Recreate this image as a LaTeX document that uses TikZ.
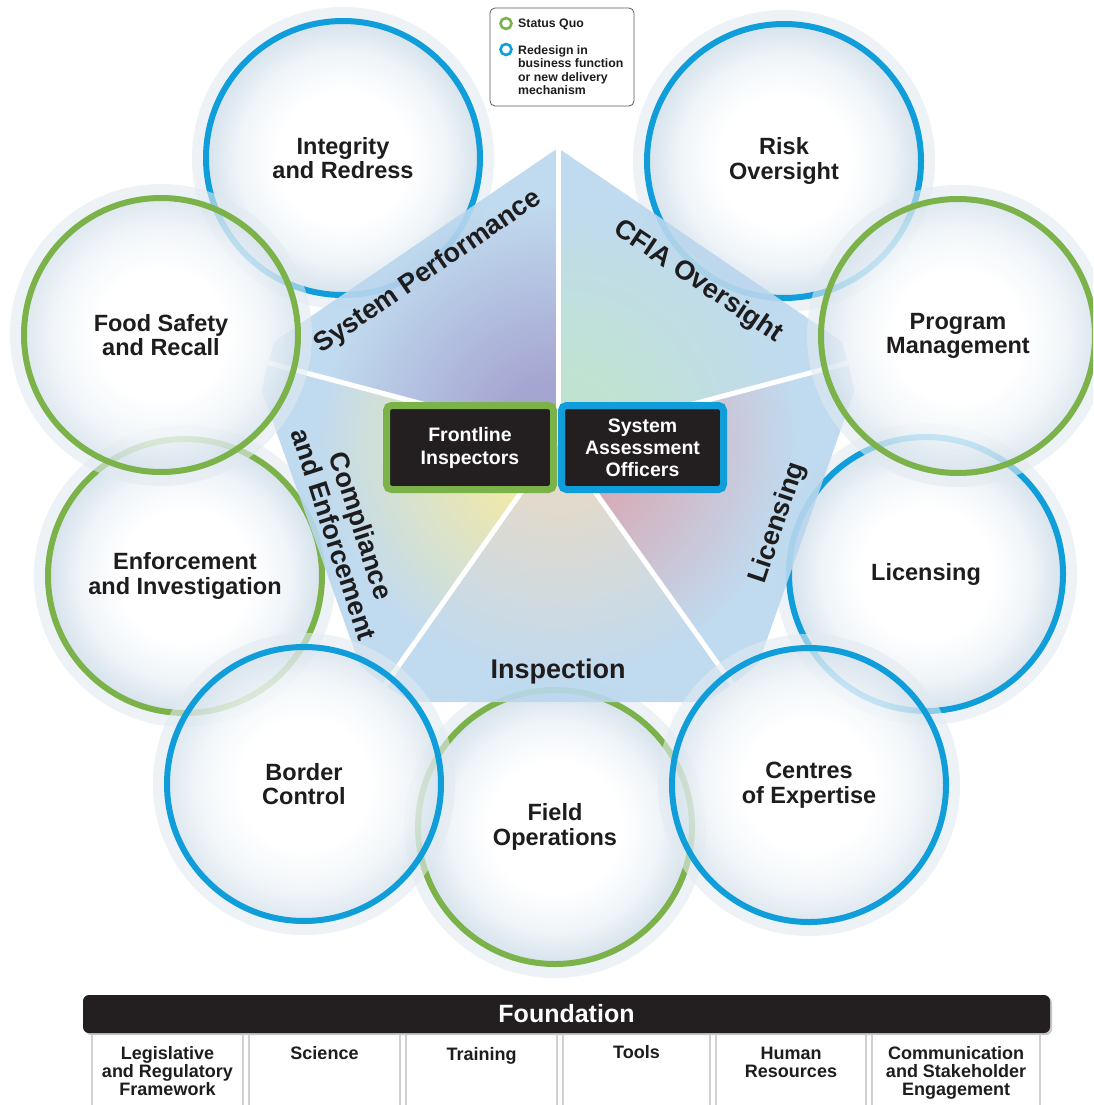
\documentclass[tikz,border=0pt]{standalone}
\usepackage{fontspec}
\setmainfont{Liberation Sans}
\definecolor{rgreen}{RGB}{124,178,74}
\definecolor{rblue}{RGB}{16,158,218}
\definecolor{boxblack}{RGB}{35,31,32}
\definecolor{txtblack}{RGB}{30,28,29}
\definecolor{bubedge}{RGB}{214,226,236}
\definecolor{bubmid}{RGB}{240,245,249}
\definecolor{halocol}{RGB}{226,234,241}
\definecolor{pblue}{RGB}{186,215,238}
\definecolor{tSP}{RGB}{156,156,204}
\definecolor{tCF}{RGB}{186,224,204}
\definecolor{tLI}{RGB}{212,160,172}
\definecolor{tIN}{RGB}{222,214,200}
\definecolor{tCO}{RGB}{244,232,156}
\pgfdeclareradialshading{bubble}{\pgfpoint{0bp}{0bp}}{color(0bp)=(white); color(12bp)=(white); color(19bp)=(bubmid); color(25bp)=(bubedge); color(50bp)=(bubedge)}
\pgfdeclareradialshading{shSP}{\pgfpoint{0bp}{0bp}}{color(0bp)=(tSP); color(5bp)=(tSP); color(20bp)=(pblue); color(50bp)=(pblue)}
\pgfdeclareradialshading{shCF}{\pgfpoint{0bp}{0bp}}{color(0bp)=(tCF); color(5bp)=(tCF); color(20bp)=(pblue); color(50bp)=(pblue)}
\pgfdeclareradialshading{shLI}{\pgfpoint{0bp}{0bp}}{color(0bp)=(tLI); color(5bp)=(tLI); color(20bp)=(pblue); color(50bp)=(pblue)}
\pgfdeclareradialshading{shIN}{\pgfpoint{0bp}{0bp}}{color(0bp)=(tIN); color(6bp)=(tIN); color(20bp)=(pblue); color(50bp)=(pblue)}
\pgfdeclareradialshading{shCO}{\pgfpoint{0bp}{0bp}}{color(0bp)=(tCO); color(5bp)=(tCO); color(20bp)=(pblue); color(50bp)=(pblue)}
\newcommand{\myfs}[2]{\fontsize{#1}{#2}\selectfont\bfseries}
\tikzset{
  bubblenode/.style={circle, minimum size=274pt, inner sep=0pt, line width=6pt, shade, shading=bubble, align=center, font=\myfs{23.5}{24.5}, text=txtblack},
  halo/.style={draw=halocol, line width=14pt, draw opacity=0.6},
  divider/.style={draw=white, line width=5pt},
  pentlabel/.style={font=\myfs{27}{29}, text=txtblack, align=center, inner sep=0pt},
  centerbox/.style={fill=boxblack, line width=7pt, rounded corners=5pt, text=white, align=center, inner sep=0pt},
  legicon/.style={circle, line width=2.6pt, minimum size=11pt, inner sep=0pt},
  legtext/.style={font=\myfs{12.3}{13.5}, align=left, inner sep=0pt, anchor=west, text=txtblack},
  colbox/.style={draw=gray!55, line width=1.3pt, fill=white, rounded corners=5pt, minimum height=93pt, inner sep=0pt},
  coltext/.style={font=\myfs{18}{18}, align=center, anchor=north, inner sep=0pt, text=txtblack}
}
\newcommand{\bubbleat}[6]{%
  \draw[halo] (#2,#3) circle[radius=144pt];
  \node[bubblenode, draw=#4, fill opacity=#5, text opacity=1] (#1) at (#2,#3) {#6};
}
\begin{document}
\begin{tikzpicture}[x=1pt, y=-1pt]
\useasboundingbox (0,0) rectangle (1093,1105);
\clip (0,0) rectangle (1093,1105);
\fill[white] (0,0) rectangle (1093,1105);

% back circles
\bubbleat{integ}{343}{158}{rblue}{1}{Integrity\\and Redress}
\bubbleat{risk}{784}{161}{rblue}{1}{Risk\\Oversight}
\bubbleat{enf}{185}{576}{rgreen}{1}{Enforcement\\and Investigation}
\bubbleat{lic}{926}{574}{rblue}{1}{Licensing}
\bubbleat{field}{555}{827}{rgreen}{1}{Field\\Operations}

% pentagon
\coordinate (T) at (558,148);
\coordinate (UL) at (250,358);
\coordinate (UR) at (866,358);
\coordinate (LL) at (373,702);
\coordinate (LR) at (745,702);
\coordinate (C) at (558,440);
\begin{scope}
  \clip (T) -- (UL) -- (C) -- cycle;
  \shade[shading=shSP, fill opacity=0.9] (C) circle[radius=300pt];
\end{scope}
\begin{scope}
  \clip (T) -- (UR) -- (C) -- cycle;
  \shade[shading=shCF, fill opacity=0.9] (C) circle[radius=300pt];
\end{scope}
\begin{scope}
  \clip (UR) -- (LR) -- (C) -- cycle;
  \shade[shading=shLI, fill opacity=0.9] (C) circle[radius=300pt];
\end{scope}
\begin{scope}
  \clip (LR) -- (LL) -- (C) -- cycle;
  \shade[shading=shIN, fill opacity=0.9] (C) circle[radius=300pt];
\end{scope}
\begin{scope}
  \clip (LL) -- (UL) -- (C) -- cycle;
  \shade[shading=shCO, fill opacity=0.9] (C) circle[radius=300pt];
\end{scope}
\draw[divider] (C) -- (T);
\draw[divider] (C) -- (UL);
\draw[divider] (C) -- (UR);
\draw[divider] (C) -- (LL);
\draw[divider] (C) -- (LR);

% front circles
\bubbleat{food}{161}{335}{rgreen}{0.8}{Food Safety\\and Recall}
\bubbleat{prog}{958}{336}{rgreen}{0.8}{Program\\Management}
\bubbleat{border}{304}{784}{rblue}{0.8}{Border\\Control}
\bubbleat{centres}{809}{785}{rblue}{0.8}{Centres\\of Expertise}

% pentagon labels
\node[pentlabel, rotate=34.5] (lsp) at (428,272) {System Performance};
\node[pentlabel, rotate=-34] (lcf) at (698,282) {CFIA Oversight};
\node[pentlabel, rotate=71.5] (lli) at (778,523) {Licensing};
\node[pentlabel, rotate=-72] (lco) at (348,530) {Compliance\\and Enforcement};
\node[pentlabel] (lin) at (558,672) {Inspection};

% center boxes
\node[centerbox, draw=rgreen, minimum width=167pt, minimum height=84pt, font=\myfs{19.5}{23}] (front) at (470,447.5) {Frontline\\Inspectors};
\node[centerbox, draw=rblue, minimum width=162pt, minimum height=84pt, font=\myfs{19.5}{22}] (sao) at (642.5,447.5) {System\\Assessment\\Officers};

% legend
\node[draw=gray!70!black, line width=0.8pt, rounded corners=5pt, fill=white, minimum width=144pt, minimum height=98pt, inner sep=0pt] (legend) at (562,57) {};
\node[legicon, draw=rgreen] (lgq) at (506,23.5) {};
\node[legicon, draw=rblue] (lgr) at (506,49.5) {};
\node[legtext] (ltq) at (518,24) {Status Quo};
\node[legtext] (ltr) at (518,70) {Redesign in\\business function\\or new delivery\\mechanism};

% foundation
\node[colbox, minimum width=151pt] (c1) at (167.5,1071) {};
\node[colbox, minimum width=151pt] (c2) at (324.5,1071) {};
\node[colbox, minimum width=151pt] (c3) at (481.5,1071) {};
\node[colbox, minimum width=147pt] (c4) at (636.5,1071) {};
\node[colbox, minimum width=150pt] (c5) at (791,1071) {};
\node[colbox, minimum width=168pt] (c6) at (956,1071) {};
\fill[black!22, rounded corners=6pt] (85,997) rectangle (1052,1035);
\node[fill=boxblack, rounded corners=6pt, minimum width=967pt, minimum height=38pt, inner sep=0pt, text=white, font=\myfs{25}{27}] (found) at (566.5,1014) {Foundation};
\node[coltext] (t1) at (167.5,1046) {Legislative\\and Regulatory\\Framework};
\node[coltext] (t2) at (324.5,1046) {Science};
\node[coltext] (t3) at (481.5,1047) {Training};
\node[coltext] (t4) at (636.5,1045) {Tools};
\node[coltext] (t5) at (791,1047) {Human\\Resources};
\node[coltext] (t6) at (956,1046) {Communication\\and Stakeholder\\Engagement};
\end{tikzpicture}
\end{document}
